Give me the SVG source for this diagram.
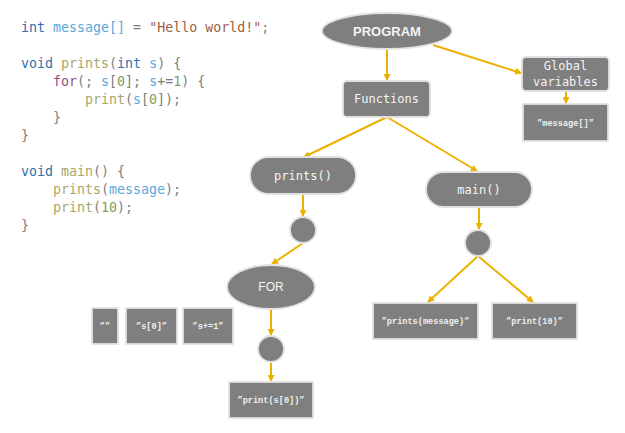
<svg xmlns="http://www.w3.org/2000/svg" width="625" height="433" viewBox="0 0 625 433">
<defs>
<style>
.code{font-family:"DejaVu Sans Mono","Liberation Mono",monospace;font-size:13.3px;fill:#7e7e7e}
.kw{fill:#2f70ad}.var{fill:#58a8dc}.str{fill:#9c5f42}.fn{fill:#a8a86a}.ctl{fill:#8e4c8c}.num{fill:#7c9e66}
.node{fill:#7f7f7f;stroke:#e2e2e2;stroke-width:1.8}
.lbl{font-family:"DejaVu Sans Mono","Liberation Mono",monospace;font-size:12px;fill:#f4f4f4;text-anchor:middle}
.sm{font-family:"Liberation Mono","DejaVu Sans Mono",monospace;font-size:8.6px;font-weight:bold;fill:#f0f0f0;text-anchor:middle}
.sans{font-family:"Liberation Sans",Arial,sans-serif;fill:#f4f4f4;text-anchor:middle}
.edge{stroke:#ecb100;stroke-width:2;fill:none;marker-end:url(#ah)}
</style>
<marker id="ah" markerUnits="userSpaceOnUse" markerWidth="7" markerHeight="7" refX="6" refY="3.5" orient="auto">
<path d="M0,0 L7,3.5 L0,7 z" fill="#ecb100"/>
</marker>
</defs>
<rect width="625" height="433" fill="#ffffff"/>
<g id="code">
<text class="code" x="21" y="32"><tspan class="kw">int</tspan> <tspan class="var">message[]</tspan> = <tspan class="str">"Hello world!"</tspan>;</text>
<text class="code" x="21" y="68"><tspan class="kw">void</tspan> <tspan class="fn">prints</tspan>(<tspan class="kw">int</tspan> <tspan class="var">s</tspan>) {</text>
<text class="code" x="53" y="86"><tspan class="ctl">for</tspan>(; <tspan class="var">s</tspan>[<tspan class="num">0</tspan>]; <tspan class="var">s</tspan>+=<tspan class="num">1</tspan>) {</text>
<text class="code" x="85" y="104"><tspan class="fn">print</tspan>(<tspan class="var">s</tspan>[<tspan class="num">0</tspan>]);</text>
<text class="code" x="53" y="122">}</text>
<text class="code" x="21" y="140">}</text>
<text class="code" x="21" y="176"><tspan class="kw">void</tspan> <tspan class="fn">main</tspan>() {</text>
<text class="code" x="53" y="194"><tspan class="fn">prints</tspan>(<tspan class="var">message</tspan>);</text>
<text class="code" x="53" y="212"><tspan class="fn">print</tspan>(<tspan class="num">10</tspan>);</text>
<text class="code" x="21" y="230">}</text>
</g>
<g id="edges">
<line class="edge" x1="387" y1="49" x2="387" y2="80"/>
<line class="edge" x1="433" y1="45" x2="521" y2="73"/>
<line class="edge" x1="566" y1="91" x2="566" y2="103"/>
<line class="edge" x1="387" y1="117" x2="304" y2="157"/>
<line class="edge" x1="387" y1="117" x2="477" y2="171"/>
<line class="edge" x1="303" y1="194" x2="303" y2="216"/>
<line class="edge" x1="303" y1="243" x2="272" y2="264"/>
<line class="edge" x1="271" y1="309" x2="271" y2="335"/>
<line class="edge" x1="271" y1="362" x2="271" y2="381"/>
<line class="edge" x1="479" y1="207" x2="479" y2="229"/>
<line class="edge" x1="478" y1="256" x2="428" y2="302"/>
<line class="edge" x1="478" y1="256" x2="533" y2="302"/>
</g>
<g id="program"><ellipse class="node" cx="387" cy="31" rx="65" ry="18"/><text class="sans" x="387" y="36" font-size="13" font-weight="bold">PROGRAM</text></g>
<g id="functions"><rect class="node" x="343" y="81" width="87" height="36" rx="4"/><text class="lbl" x="386.5" y="103">Functions</text></g>
<g id="global"><rect class="node" x="522" y="57" width="87" height="34" rx="4"/><text class="lbl" x="565.5" y="70">Global</text><text class="lbl" x="565.5" y="86">variables</text></g>
<g id="message"><rect class="node" x="523" y="104" width="85" height="37"/><text class="sm" x="565.5" y="126">”message[]”</text></g>
<g id="prints"><rect class="node" x="250" y="157" width="106" height="37" rx="18.5"/><text class="lbl" x="303" y="180">prints()</text></g>
<g id="main"><rect class="node" x="426" y="172" width="106" height="35" rx="17.5"/><text class="lbl" x="479" y="194">main()</text></g>
<g id="c1"><circle class="node" cx="303" cy="230" r="13"/></g>
<g id="for"><ellipse class="node" cx="271" cy="287" rx="44" ry="22"/><text class="sans" x="271" y="291" font-size="12">FOR</text></g>
<g id="c2"><circle class="node" cx="271" cy="349" r="13"/></g>
<g id="prints0"><rect class="node" x="229" y="382" width="84" height="36"/><text class="sm" x="271" y="403">”print(s[0])”</text></g>
<g id="init"><rect class="node" x="92" y="308" width="26" height="36"/><text class="sm" x="105" y="329">””</text></g>
<g id="cond"><rect class="node" x="126" y="308" width="51" height="36"/><text class="sm" x="151.5" y="329">”s[0]”</text></g>
<g id="incr"><rect class="node" x="183" y="308" width="50" height="36"/><text class="sm" x="208" y="329">”s+=1”</text></g>
<g id="c3"><circle class="node" cx="478" cy="243" r="13"/></g>
<g id="printsmsg"><rect class="node" x="373" y="303" width="105" height="36"/><text class="sm" x="425.5" y="324">”prints(message)”</text></g>
<g id="print10"><rect class="node" x="492" y="303" width="85" height="36"/><text class="sm" x="534.5" y="324">”print(10)”</text></g>
</svg>
